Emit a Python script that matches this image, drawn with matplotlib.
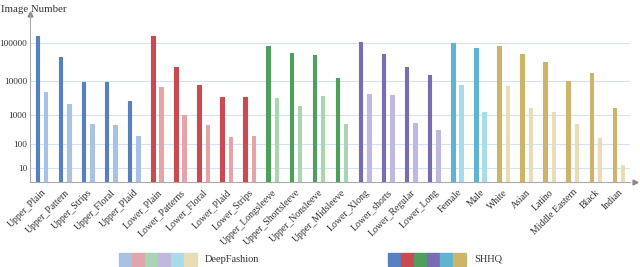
import numpy as np
import matplotlib
matplotlib.use("Agg")
import matplotlib.pyplot as plt
from matplotlib.patches import Rectangle

categories = ["Upper_Plain", "Upper_Pattern", "Upper_Strips", "Upper_Floral", "Upper_Plaid",
              "Lower_Plain", "Lower_Patterns", "Lower_Floral", "Lower_Plaid", "Lower_Strips",
              "Upper_Longsleeve", "Upper_Shortsleeve", "Upper_Nonsleeve", "Upper_Midsleeve",
              "Lower_Xlong", "Lower_shorts", "Lower_Regular", "Lower_Long",
              "Female", "Male",
              "White", "Asian", "Latino", "Middle Eastern", "Black", "Indian"]
shhq = [148000, 44700, 9300, 8900, 2600,
        148000, 24300, 7800, 3400, 3400,
        86000, 57000, 48000, 11600,
        107000, 51500, 24300, 14000,
        100000, 77000,
        83000, 51500, 33000, 9700, 16200, 1580]
deepfashion = [4900, 2100, 500, 465, 190,
               6800, 950, 460, 180, 195,
               3140, 1800, 3600, 500,
               4100, 3850, 540, 320,
               7800, 1220,
               7000, 1580, 1180, 500, 165, 13.5]
group_sizes = [5, 5, 4, 4, 2, 6]
shhq_colors = ["#5680c0", "#c94a50", "#4f9f5c", "#7a6cb2", "#5fb5cf", "#cdb46a"]
df_colors = ["#a9c2e4", "#e3a5aa", "#a9d5b2", "#c1b8dd", "#aadbe8", "#e9ddb7"]
yticks = [10, 100, 1000, 10000, 100000]
legend_labels = ["DeepFashion", "SHHQ"]

P = 1.41
def fwd(v):
    v = np.clip(np.asarray(v, dtype=float), 1, None)
    return np.log10(v) ** P
def inv(h):
    h = np.clip(np.asarray(h, dtype=float), 0, None)
    return 10 ** (h ** (1.0 / P))

plt.rcParams['font.family'] = ['Liberation Serif', 'DejaVu Serif']

fig = plt.figure(figsize=(6.4, 2.67), dpi=100)
W, H = 640, 267
ax = fig.add_axes([30 / W, (H - 182.3) / H, 600 / W, (182.3 - 14) / H])
ax.set_yscale('function', functions=(fwd, inv))

cidx = np.repeat(np.arange(len(group_sizes)), group_sizes)
x = np.arange(len(categories))
off = 0.18
bw = 0.15
b1 = ax.bar(x - off, shhq, width=bw, bottom=1, color=[shhq_colors[i] for i in cidx],
            edgecolor=[shhq_colors[i] for i in cidx], linewidth=0.8, zorder=3)
b2 = ax.bar(x + off, deepfashion, width=bw, bottom=1, color=[df_colors[i] for i in cidx],
            edgecolor=[df_colors[i] for i in cidx], linewidth=0.8, zorder=3)
for p in list(b1) + list(b2):
    p.set_joinstyle('round')

ax.set_xlim(-0.5, len(categories) - 0.5)
ax.set_ylim(1, 10 ** 5.72)
ax.set_yticks(yticks)
ax.set_yticklabels([str(t) for t in yticks])
ax.yaxis.set_minor_locator(matplotlib.ticker.NullLocator())
ax.tick_params(axis='y', length=0, pad=2, labelsize=6.7, labelcolor='#333333')
ax.set_xticks(x)
ax.set_xticklabels(categories, rotation=45, ha='right', va='top', rotation_mode='anchor',
                   fontsize=7, color='#333333')
ax.tick_params(axis='x', length=0, pad=4)
for t in yticks:
    ax.axhline(t, color='#d6e2f2', lw=0.8, zorder=1)
for s in ['top', 'right']:
    ax.spines[s].set_visible(False)
for s in ['left', 'bottom']:
    ax.spines[s].set_color('#aaaaaa')
    ax.spines[s].set_linewidth(0.8)
ax.plot([0], [1.0], marker='^', ms=3.5, color='#888888', transform=ax.transAxes, clip_on=False)
ax.plot([1.008], [0], marker='>', ms=3.5, color='#888888', transform=ax.transAxes, clip_on=False)
fig.text(1 / W, 1 - 9 / H, "Image Number", fontsize=7.8, color='#333333', va='center', ha='left')

# legend
sw_w, sw_h = 13, 13
for start, cols, lab in [(119, df_colors, legend_labels[0]), (388, shhq_colors, legend_labels[1])]:
    for i, c in enumerate(cols):
        fig.patches.append(Rectangle(((start + i * sw_w) / W, (H - 266) / H), sw_w / W, sw_h / H,
                                     transform=fig.transFigure, color=c))
    fig.text((start + 6 * sw_w + 8) / W, (H - 259) / H, lab, fontsize=7.5, color='#333333',
             va='center', ha='left')

fig.savefig("out.png", dpi=100)
